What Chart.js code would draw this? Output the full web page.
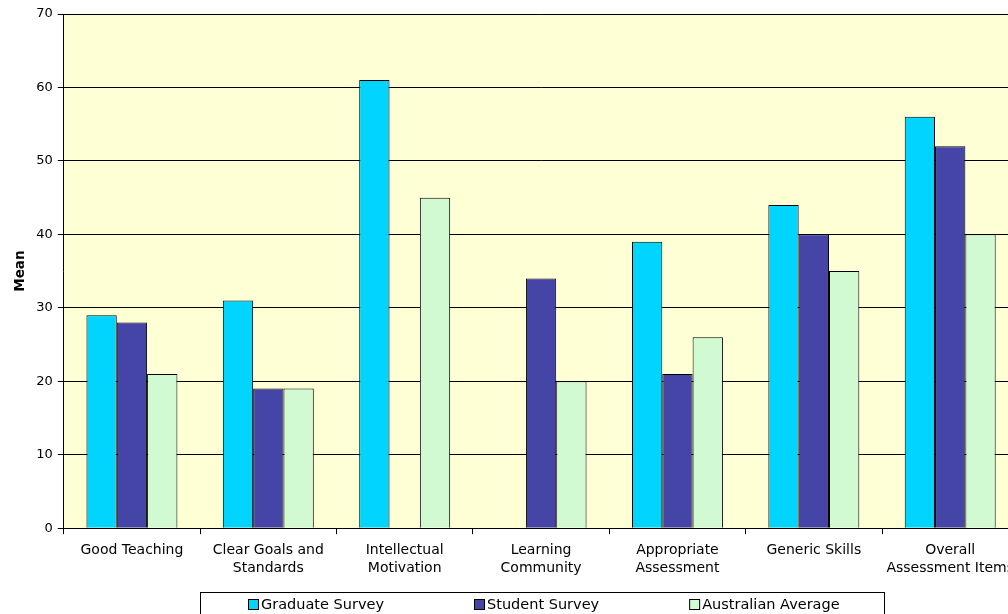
<!DOCTYPE html>
<html>
<head>
<meta charset="utf-8">
<script src="https://cdn.jsdelivr.net/npm/chart.js@4/dist/chart.umd.min.js"></script>
<style>
  html, body { margin: 0; padding: 0; background: #fff; overflow: hidden; }
  #wrap { width: 1008px; height: 614px; overflow: hidden; }
  canvas { display: block; }
</style>
</head>
<body>
<div id="wrap"><canvas id="c" width="1021" height="614"></canvas></div>
<script>
// Scale categories (multi-line labels as arrays)
const categories = [
  'Good Teaching',
  ['Clear Goals and', 'Standards'],
  ['Intellectual', 'Motivation'],
  ['Learning', 'Community'],
  ['Appropriate', 'Assessment'],
  'Generic Skills',
  ['Overall', 'Assessment Items']
];

// Mean scores per survey
const graduateSurvey    = [29, 31, 61, null, 39, 44, 56];
const studentSurvey     = [28, 19, null, 34, 21, 40, 52];
const australianAverage = [21, 19, 45, 20, 26, 35, 40];

const seriesNames = ['Graduate Survey', 'Student Survey', 'Australian Average'];
const seriesColors = ['#00D4FF', '#4545A8', '#D2FAD2'];

const FONT = '"DejaVu Sans", Verdana, sans-serif';

// Pale yellow plot background
const plotBackground = {
  id: 'plotBackground',
  beforeDraw(chart) {
    const { ctx, chartArea: a } = chart;
    ctx.save();
    ctx.fillStyle = '#FFFFD6';
    ctx.fillRect(a.left, a.top, a.right - a.left, a.bottom - a.top);
    ctx.restore();
  }
};

// Boxed legend below the axis
const boxedLegend = {
  id: 'boxedLegend',
  afterDraw(chart) {
    const ctx = chart.ctx;
    const boxL = 200, boxR = 884, boxT = 592;
    ctx.save();
    ctx.fillStyle = '#fff';
    ctx.fillRect(boxL, boxT, boxR - boxL, 40);
    ctx.strokeStyle = '#000';
    ctx.lineWidth = 1;
    ctx.strokeRect(boxL + 0.5, boxT + 0.5, boxR - boxL, 40);

    ctx.font = '14.5px ' + FONT;
    ctx.textBaseline = 'middle';
    const sq = 11, sqGap = 2, itemGap = 90;
    const items = chart.data.datasets.map(ds => ({
      label: ds.label,
      color: ds.backgroundColor,
      w: sq + sqGap + ctx.measureText(ds.label).width
    }));
    const total = items.reduce((s, it) => s + it.w, 0) + itemGap * (items.length - 1);
    let x = Math.round((boxL + boxR) / 2 + 2 - total / 2);
    const cy = boxT + 12;
    items.forEach(it => {
      ctx.fillStyle = it.color;
      ctx.fillRect(x, cy - 5, sq, sq);
      ctx.strokeStyle = '#000';
      ctx.strokeRect(x + 0.5, cy - 5 + 0.5, sq - 1, sq - 1);
      ctx.fillStyle = '#000';
      ctx.fillText(it.label, x + sq + sqGap, cy + 1);
      x += it.w + itemGap;
    });
    ctx.restore();
  }
};

const datasets = [graduateSurvey, studentSurvey, australianAverage].map((values, i) => ({
  label: seriesNames[i],
  data: values,
  backgroundColor: seriesColors[i],
  borderColor: '#000',
  borderWidth: 1,
  borderSkipped: 'bottom',
  categoryPercentage: 0.667,
  barPercentage: 1.0
}));

new Chart(document.getElementById('c'), {
  type: 'bar',
  data: { labels: categories, datasets },
  options: {
    responsive: false,
    animation: false,
    layout: { padding: { left: 12, right: 0, top: 14, bottom: 30 } },
    plugins: {
      legend: { display: false },
      tooltip: { enabled: false }
    },
    scales: {
      x: {
        grid: {
          offset: true,
          drawOnChartArea: false,
          drawTicks: true,
          tickLength: 6,
          color: '#000'
        },
        border: { color: '#000', width: 1 },
        ticks: {
          color: '#000',
          padding: 7,
          maxRotation: 0,
          autoSkip: false,
          font: { family: FONT, size: 14, lineHeight: 1.28 }
        }
      },
      y: {
        min: 0,
        max: 70,
        ticks: {
          stepSize: 10,
          color: '#000',
          padding: 5,
          font: { family: FONT, size: 13 }
        },
        grid: {
          color: '#000',
          lineWidth: 1,
          drawTicks: true,
          tickLength: 6
        },
        border: { color: '#000', width: 1 },
        title: {
          display: true,
          text: 'Mean',
          color: '#000',
          padding: { top: 0, bottom: 3 },
          font: { family: FONT, size: 13.5, weight: 'bold' }
        }
      }
    }
  },
  plugins: [plotBackground, boxedLegend]
});
</script>
</body>
</html>
